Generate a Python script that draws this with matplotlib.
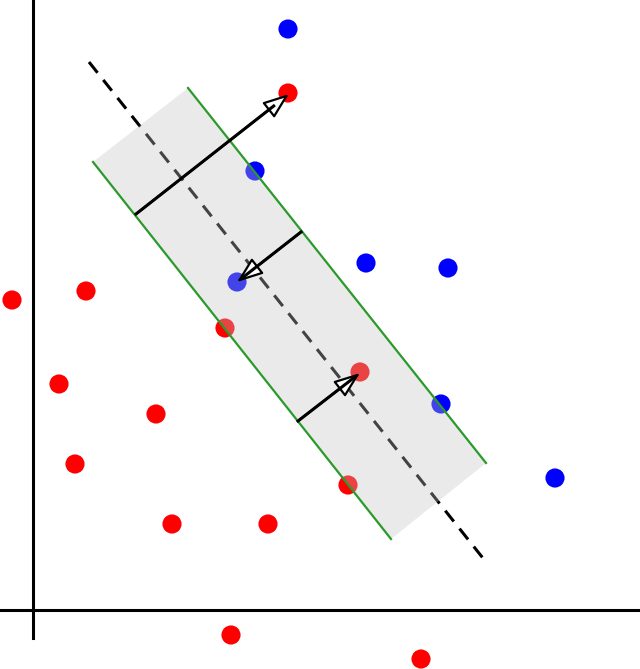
import matplotlib.pyplot as plt
from matplotlib.patches import Polygon

# points in picture coordinates (x right, y down)
red_x = [288, 12, 86, 225, 59, 156, 75, 360, 348, 172, 268, 231, 421]
red_y = [93, 300, 291, 328, 384, 414, 464, 372, 485, 524, 524, 635, 659]
blue_x = [288, 255, 237, 366, 448, 441, 555]
blue_y = [29, 171, 282, 263, 268, 404, 478]

# separating line and margin band
sep_x = [89, 486]
sep_y = [62, 562]
band_x = [93, 188, 486, 391]
band_y = [162, 88, 463, 539]

# arrows: start -> end
arrow_start = [(136, 214), (301, 232), (298, 421)]
arrow_end = [(289, 94), (237, 282), (360, 373)]

fig = plt.figure(figsize=(6.4, 6.69), dpi=100)
ax = fig.add_axes([0, 0, 1, 1])
ax.set_xlim(0, 640)
ax.set_ylim(669, 0)
ax.axis('off')

# axes lines
ax.plot([0, 638], [610, 610], color='black', lw=2.2, zorder=1)
ax.plot([33, 33], [0, 638], color='black', lw=2.2, zorder=1)

ax.plot(sep_x, sep_y, color='black', lw=2.2, ls=(0, (4.5, 3)), zorder=2)
ax.scatter(red_x, red_y, s=190, color='#ff0000', edgecolors='none', zorder=3)
ax.scatter(blue_x, blue_y, s=190, color='#0000ff', edgecolors='none', zorder=3)

band = Polygon(list(zip(band_x, band_y)), closed=True, facecolor=(0.77, 0.77, 0.77),
               alpha=0.345, edgecolor='none', zorder=4)
ax.add_patch(band)
ax.plot([band_x[0], band_x[3]], [band_y[0], band_y[3]], color='#2a9a2a', lw=1.6, zorder=5)
ax.plot([band_x[1], band_x[2]], [band_y[1], band_y[2]], color='#2a9a2a', lw=1.6, zorder=5)

for (x0, y0), (x1, y1) in zip(arrow_start, arrow_end):
    ax.annotate('', xy=(x1, y1), xytext=(x0, y0),
                arrowprops=dict(arrowstyle='-|>,head_length=0.8,head_width=0.3',
                                color='black', lw=1.6, mutation_scale=20,
                                fc='white', shrinkA=0, shrinkB=0),
                zorder=6)
    ax.plot([x0, x0 + 0.9 * (x1 - x0)], [y0, y0 + 0.9 * (y1 - y0)],
            color='black', lw=2.2, zorder=6)

fig.savefig('out.png', dpi=100)
